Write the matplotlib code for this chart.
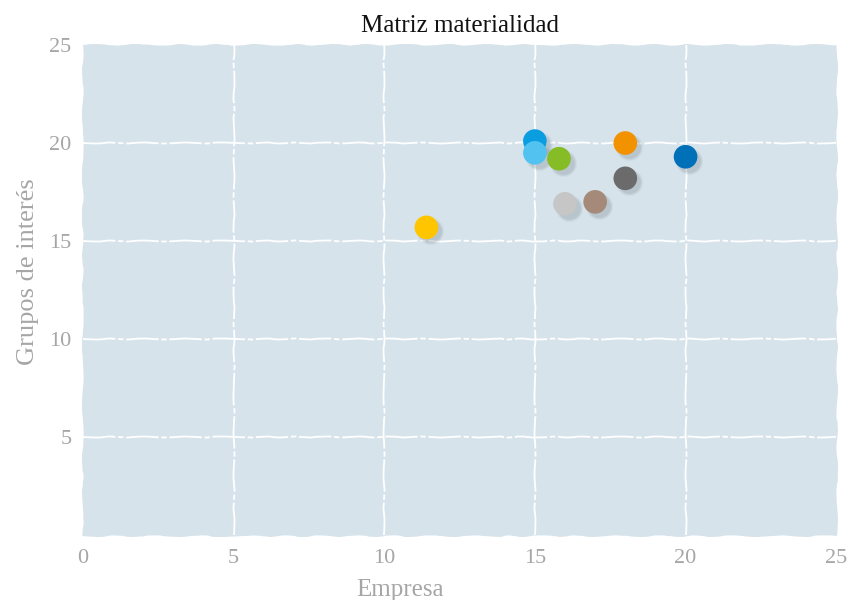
import matplotlib
matplotlib.use("Agg")
import matplotlib.pyplot as plt
import numpy as np

# ── Data ──────────────────────────────────────────────────────────────────────
empresa = [15.0, 15.0, 15.8, 18.0, 20.0, 18.0, 16.0, 17.0, 11.4]
grupos = [20.1, 19.5, 19.2, 20.0, 19.3, 18.2, 16.9, 17.0, 15.7]
colors = ["#0a9ee0", "#52c3f1", "#86bc25", "#f39200", "#0070b8",
          "#6b6b6b", "#c6c6c6", "#a58a7a", "#ffc600"]
ticks = [0, 5, 10, 15, 20, 25]
ytick_labels = ["", "5", "10", "15", "20", "25"]

SERIF = ["Liberation Serif", "DejaVu Serif"]
GREY = "#a6a6a6"

fig = plt.figure(figsize=(8.63, 6.0), dpi=100, facecolor="white")
ax = fig.add_axes([0.096, 0.108, 0.873, 0.817])

# Rough-edged background panel
ax.patch.set_facecolor("#d7e3eb")
ax.patch.set_edgecolor("#d7e3eb")
ax.patch.set_linewidth(1.0)
ax.patch.set_sketch_params(scale=0.8, length=80, randomness=8)

ax.set_xlim(0, 25)
ax.set_ylim(0, 25)
ax.set_xticks(ticks)
ax.set_yticks(ticks)
ax.set_yticklabels(ytick_labels)
for s in ax.spines.values():
    s.set_visible(False)
ax.tick_params(axis="x", length=0, pad=10, labelsize=16, labelcolor=GREY)
ax.tick_params(axis="y", length=0, pad=8, labelsize=16, labelcolor=GREY)
for lab in ax.get_xticklabels() + ax.get_yticklabels():
    lab.set_fontfamily(SERIF)

# Hand-drawn white grid lines
for t in ticks[1:-1]:
    l1, = ax.plot([t, t], [0, 25], color="white", lw=1.3, ls=(0, (18, 1.5, 3, 1.5)), zorder=1)
    l2, = ax.plot([0, 25], [t, t], color="white", lw=1.3, ls=(0, (18, 1.5, 3, 1.5)), zorder=1)
    for l in (l1, l2):
        l.set_sketch_params(scale=0.5, length=60, randomness=6)

# Soft shadows then blobs
ex = np.array(empresa) + 0.12
gy = np.array(grupos) - 0.2
for size, a in ((380, 0.08), (320, 0.10), (270, 0.14)):
    ax.scatter(ex, gy, s=size, color="#6f7f8a", alpha=a, linewidths=0, zorder=2)
ax.scatter(empresa, grupos, s=290, c=colors, linewidths=0, zorder=3)

ax.set_title("Matriz materialidad", fontsize=18, color="#111111",
             family=SERIF, pad=9)
ax.set_xlabel("Empresa", fontsize=18, color=GREY, family=SERIF)
ax.set_ylabel("Grupos de interés", fontsize=19, color=GREY, family=SERIF)
ax.xaxis.set_label_coords(0.421, -0.09)
ax.yaxis.set_label_coords(-0.058, 0.537)

fig.savefig("out.png", dpi=100, facecolor="white")
